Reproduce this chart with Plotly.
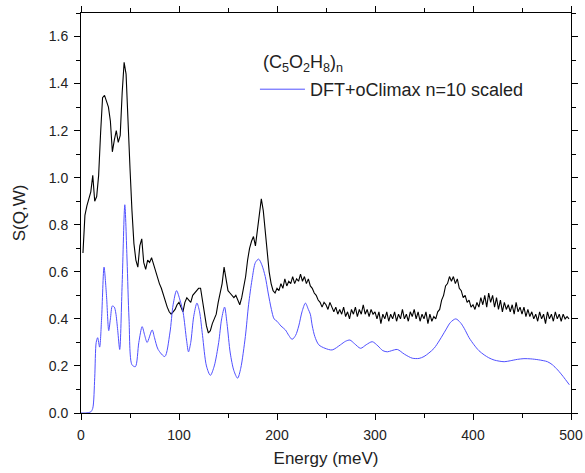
import numpy as np
import plotly.graph_objects as go

# Experimental spectrum (black), sampled every 2 meV from 2 to 498 meV
exp_energy = list(range(2, 499, 2))
exp_sqw = [
    0.68, 0.84, 0.88, 0.91, 0.94, 1.01, 0.90, 0.92, 1.01, 1.19,
    1.34, 1.35, 1.32, 1.30, 1.24, 1.11, 1.16, 1.20, 1.15, 1.18,
    1.36, 1.49, 1.44, 1.27, 1.04, 0.86, 0.72, 0.65, 0.62, 0.71,
    0.74, 0.64, 0.61, 0.65, 0.64, 0.66, 0.63, 0.61, 0.57, 0.55,
    0.53, 0.50, 0.48, 0.45, 0.43, 0.42, 0.43, 0.44, 0.46, 0.47,
    0.45, 0.43, 0.47, 0.49, 0.48, 0.47, 0.50, 0.51, 0.52, 0.53,
    0.53, 0.47, 0.42, 0.37, 0.34, 0.35, 0.38, 0.40, 0.42, 0.47,
    0.51, 0.55, 0.62, 0.57, 0.52, 0.51, 0.50, 0.49, 0.50, 0.48,
    0.46, 0.49, 0.54, 0.58, 0.65, 0.70, 0.73, 0.75, 0.71, 0.77,
    0.83, 0.91, 0.86, 0.77, 0.68, 0.60, 0.55, 0.52, 0.51, 0.53,
    0.52, 0.55, 0.53, 0.57, 0.54, 0.56, 0.55, 0.58, 0.55, 0.57,
    0.56, 0.59, 0.56, 0.58, 0.55, 0.57, 0.54, 0.53, 0.51, 0.50,
    0.48, 0.47, 0.45, 0.47, 0.46, 0.44, 0.47, 0.45, 0.43, 0.45,
    0.42, 0.44, 0.42, 0.45, 0.41, 0.43, 0.40, 0.44, 0.42, 0.45,
    0.41, 0.44, 0.42, 0.46, 0.42, 0.44, 0.41, 0.44, 0.42, 0.43,
    0.40, 0.43, 0.38, 0.42, 0.40, 0.43, 0.39, 0.42, 0.40, 0.43,
    0.39, 0.42, 0.40, 0.44, 0.40, 0.42, 0.39, 0.43, 0.41, 0.44,
    0.40, 0.43, 0.39, 0.42, 0.40, 0.43, 0.38, 0.42, 0.39, 0.41,
    0.40, 0.43, 0.44, 0.48, 0.50, 0.54, 0.55, 0.58, 0.56, 0.58,
    0.55, 0.57, 0.53, 0.52, 0.49, 0.50, 0.47, 0.48, 0.45, 0.46,
    0.44, 0.47, 0.45, 0.49, 0.46, 0.50, 0.45, 0.51, 0.47, 0.50,
    0.45, 0.49, 0.44, 0.48, 0.43, 0.47, 0.44, 0.46, 0.43, 0.46,
    0.42, 0.47, 0.43, 0.45, 0.42, 0.45, 0.41, 0.44, 0.41, 0.43,
    0.40, 0.42, 0.39, 0.43, 0.40, 0.42, 0.38, 0.43, 0.40, 0.42,
    0.39, 0.43, 0.40, 0.42, 0.39, 0.42, 0.40, 0.41, 0.40,
]
exp_energy = exp_energy[:len(exp_sqw)]

# Calculated spectrum (blue), DFT+oClimax
calc_energy = [
    0, 5, 10, 12, 14, 15.5, 17, 19, 21, 23.5, 26, 28.3, 30, 32, 34, 35.5,
    37.5, 39.5, 42, 44.7, 47, 49, 52, 55.5, 59, 62.4, 65, 67.5, 72.6, 75,
    78.7, 85.5, 90.7, 94, 97.5, 101, 104.3, 107.7, 109.7, 112, 115, 118.3,
    121, 124, 128, 132, 136, 140.5, 143.5, 146.5, 149, 152.3, 156, 159.8,
    163, 167.7, 171, 174.5, 178, 181.3, 184.5, 188, 191, 194.3, 197, 200,
    204, 208.6, 212, 215.4, 219, 222.2, 225.5, 229, 232, 234, 236, 238.6,
    242.6, 249, 256.3, 264.8, 270, 274.4, 279, 285.3, 291, 297.2, 303, 308,
    312.6, 317, 322.8, 330, 338, 345, 350, 355, 360.3, 366, 372.2, 377,
    382.4, 387, 391, 396, 401, 406, 411.4, 416, 421.6, 431.8, 438, 445.4,
    452, 459, 467, 476, 481, 486.4, 492, 498.3,
]
calc_sqw = [
    0.0, 0.0, 0.005, 0.02, 0.15, 0.30, 0.32, 0.28, 0.40, 0.62, 0.50, 0.35,
    0.40, 0.455, 0.45, 0.425, 0.35, 0.27, 0.55, 0.885, 0.65, 0.40, 0.205,
    0.197, 0.30, 0.367, 0.33, 0.30, 0.353, 0.32, 0.27, 0.24, 0.34, 0.46,
    0.52, 0.48, 0.425, 0.31, 0.26, 0.30, 0.41, 0.467, 0.43, 0.33, 0.20,
    0.16, 0.20, 0.30, 0.40, 0.45, 0.38, 0.255, 0.18, 0.148, 0.19, 0.325,
    0.46, 0.566, 0.64, 0.654, 0.63, 0.58, 0.51, 0.44, 0.40, 0.39, 0.37,
    0.353, 0.33, 0.313, 0.33, 0.37, 0.43, 0.467, 0.44, 0.42, 0.37, 0.325,
    0.29, 0.275, 0.268, 0.29, 0.305, 0.31, 0.295, 0.275, 0.29, 0.303,
    0.285, 0.265, 0.26, 0.265, 0.27, 0.25, 0.233, 0.232, 0.24, 0.255,
    0.275, 0.31, 0.353, 0.385, 0.40, 0.385, 0.36, 0.32, 0.29, 0.265,
    0.247, 0.235, 0.225, 0.218, 0.222, 0.228, 0.231, 0.23, 0.226, 0.218,
    0.205, 0.183, 0.155, 0.12,
]

x_ticks = [0, 100, 200, 300, 400, 500]
y_ticks = [0.0, 0.2, 0.4, 0.6, 0.8, 1.0, 1.2, 1.4, 1.6]
sample_label = "(C<sub>5</sub>O<sub>2</sub>H<sub>8</sub>)<sub>n</sub>"

fig = go.Figure()
fig.add_trace(go.Scatter(
    x=exp_energy, y=exp_sqw, mode="lines",
    line=dict(color="black", width=1.1), showlegend=False,
    name="(C5O2H8)n",
))
fig.add_trace(go.Scatter(
    x=calc_energy, y=calc_sqw, mode="lines",
    line=dict(color="#5050ff", width=1, shape="spline", smoothing=0.8),
    name="DFT+oClimax n=10 scaled",
))

axis_common = dict(
    showline=True, linecolor="black", linewidth=1, mirror="ticks",
    ticks="outside", ticklen=6, tickwidth=1, tickcolor="black",
    showgrid=False, zeroline=False, automargin=False, ticklabelstandoff=3,
    tickfont=dict(size=14, color="#222"),
)
fig.update_xaxes(
    range=[0, 500], tickvals=x_ticks,
    minor=dict(ticks="outside", ticklen=4, dtick=50, tick0=0, tickcolor="black"),
    title=dict(text="Energy (meV)", font=dict(size=17, color="#222"), standoff=10),
    **axis_common,
)
fig.update_yaxes(
    range=[0, 1.7], tickvals=y_ticks, tickformat=".1f",
    minor=dict(ticks="outside", ticklen=4, dtick=0.1, tick0=0, tickcolor="black"),
    title=dict(text="S(Q,W)", font=dict(size=17, color="#222"), standoff=18),
    **axis_common,
)
fig.add_annotation(
    text=sample_label, xref="paper", yref="paper", x=0.368, y=0.873,
    xanchor="left", yanchor="middle", showarrow=False,
    font=dict(size=18, color="#222"),
)
fig.update_layout(
    width=585, height=473,
    margin=dict(l=81, r=14, t=13, b=60),
    paper_bgcolor="white", plot_bgcolor="white",
    font=dict(family="Liberation Sans, Arial, sans-serif", color="#222"),
    legend=dict(
        x=0.355, y=0.855, xanchor="left", yanchor="top", itemwidth=45,
        bgcolor="rgba(0,0,0,0)", font=dict(size=18, color="#222"),
    ),
)
fig.write_html("out.html", config={"displayModeBar": False},
               post_script="document.body.style.margin='0';")
